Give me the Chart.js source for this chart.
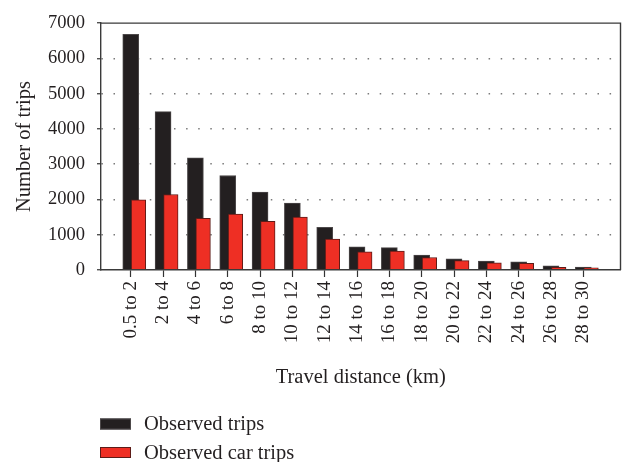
<!DOCTYPE html>
<html>
<head>
<meta charset="utf-8">
<script src="https://cdn.jsdelivr.net/npm/chart.js@4/dist/chart.umd.min.js"></script>
<style>
  html, body { margin: 0; padding: 0; background: #fff; }
</style>
</head>
<body>
<canvas id="c" width="624" height="462"></canvas>
<script>
const distanceBins = ["0.5 to 2", "2 to 4", "4 to 6", "6 to 8", "8 to 10", "10 to 12", "12 to 14",
  "14 to 16", "16 to 18", "18 to 20", "20 to 22", "22 to 24", "24 to 26", "26 to 28", "28 to 30"];
const observedTrips = [6680, 4490, 3180, 2680, 2210, 1900, 1210, 655, 635, 425, 320, 255, 235, 115, 85];
const observedCarTrips = [1990, 2140, 1465, 1585, 1380, 1500, 875, 515, 535, 355, 265, 200, 190, 75, 65];
const yTicks = [0, 1000, 2000, 3000, 4000, 5000, 6000, 7000];

const FONT = "'Liberation Serif', 'Times New Roman', serif";
const INK = "#231f20";

// x range in bin units, leaves the empty margin at both ends of the plot
const X_MIN = -0.92, X_MAX = 15.15;
// car bars sit a little right of the trip bars, overlapping them
const CAR_SHIFT = 0.24;

// top + right edge of the plot box
const frame = {
  id: "frame",
  afterDraw(chart) {
    const { ctx } = chart;
    const { left, right, top, bottom } = chart.chartArea;
    ctx.save();
    ctx.strokeStyle = "#3a3a3a";
    ctx.lineWidth = 1.4;
    ctx.beginPath();
    ctx.moveTo(left, top);
    ctx.lineTo(right, top);
    ctx.lineTo(right, bottom);
    ctx.stroke();
    ctx.restore();
  }
};

// legend stacked in two rows under the axis title
const seriesKey = {
  id: "seriesKey",
  afterDraw(chart) {
    const { ctx } = chart;
    const base = chart.scales.x.bottom;
    ctx.save();
    ctx.font = "20.5px " + FONT;
    ctx.textBaseline = "middle";
    chart.data.datasets.forEach((ds, i) => {
      const y = base + 34 + i * 28.5;
      ctx.fillStyle = ds.backgroundColor;
      ctx.fillRect(100, y - 5.5, 31, 11);
      ctx.strokeStyle = ds.borderColor;
      ctx.lineWidth = 1;
      ctx.strokeRect(100.5, y - 5, 30, 10);
      ctx.fillStyle = INK;
      ctx.fillText(ds.label, 144, y + 1);
    });
    ctx.restore();
  }
};

new Chart(document.getElementById("c"), {
  type: "bar",
  data: {
    datasets: [
      {
        label: "Observed trips",
        data: observedTrips.map((v, i) => ({ x: i, y: v })),
        backgroundColor: "#231f20",
        borderColor: "#4d494a",
        borderWidth: 1,
        barThickness: 16,
        xAxisID: "x",
        order: 2
      },
      {
        label: "Observed car trips",
        data: observedCarTrips.map((v, i) => ({ x: i, y: v })),
        backgroundColor: "#ee2f24",
        borderColor: "#5c1c18",
        borderWidth: 1,
        barThickness: 14.5,
        xAxisID: "x2",
        order: 1
      }
    ]
  },
  options: {
    responsive: false,
    animation: false,
    layout: { padding: { top: 17, right: 3.5, bottom: 72, left: 0 } },
    plugins: {
      legend: { display: false },
      tooltip: { enabled: false }
    },
    datasets: { bar: { grouped: false } },
    scales: {
      x: {
        type: "linear",
        offset: false,
        min: X_MIN,
        max: X_MAX,
        afterBuildTicks: s => { s.ticks = distanceBins.map((_, i) => ({ value: i })); },
        afterFit: s => { s.height = 120; },
        ticks: {
          autoSkip: false,
          minRotation: 90,
          maxRotation: 90,
          padding: 4,
          color: INK,
          font: { family: FONT, size: 19 },
          callback: v => distanceBins[v]
        },
        grid: {
          offset: false,
          color: "rgba(0,0,0,0)",
          tickColor: "#333",
          tickLength: 7,
          tickWidth: 1.2
        },
        border: { color: "#3a3a3a", width: 1.4, z: 1 },
        title: {
          display: true,
          text: "Travel distance (km)",
          color: INK,
          font: { family: FONT, size: 20.5 },
          padding: { top: 0, bottom: 0 }
        }
      },
      x2: {
        type: "linear",
        display: false,
        offset: false,
        grid: { offset: false },
        min: X_MIN - CAR_SHIFT,
        max: X_MAX - CAR_SHIFT
      },
      y: {
        min: 0,
        max: 7000,
        afterBuildTicks: s => { s.ticks = yTicks.map(v => ({ value: v })); },
        afterFit: s => { s.width = 101; },
        ticks: {
          padding: 12,
          color: INK,
          font: { family: FONT, size: 18.5 },
          callback: v => String(v)
        },
        grid: {
          color: ctx => (ctx.tick && ctx.tick.value > 0 && ctx.tick.value < 7000) ? "#7a7a7a" : "rgba(0,0,0,0)",
          lineWidth: 1.5,
          tickColor: "#333",
          tickLength: 4,
          tickWidth: 1.2
        },
        border: { color: "#3a3a3a", width: 1.4, dash: [1.5, 10.6], z: 1 },
        title: {
          display: true,
          text: "Number of trips",
          color: INK,
          font: { family: FONT, size: 20.5 },
          padding: { top: 12, bottom: 0 }
        }
      }
    }
  },
  plugins: [frame, seriesKey]
});
</script>
</body>
</html>
